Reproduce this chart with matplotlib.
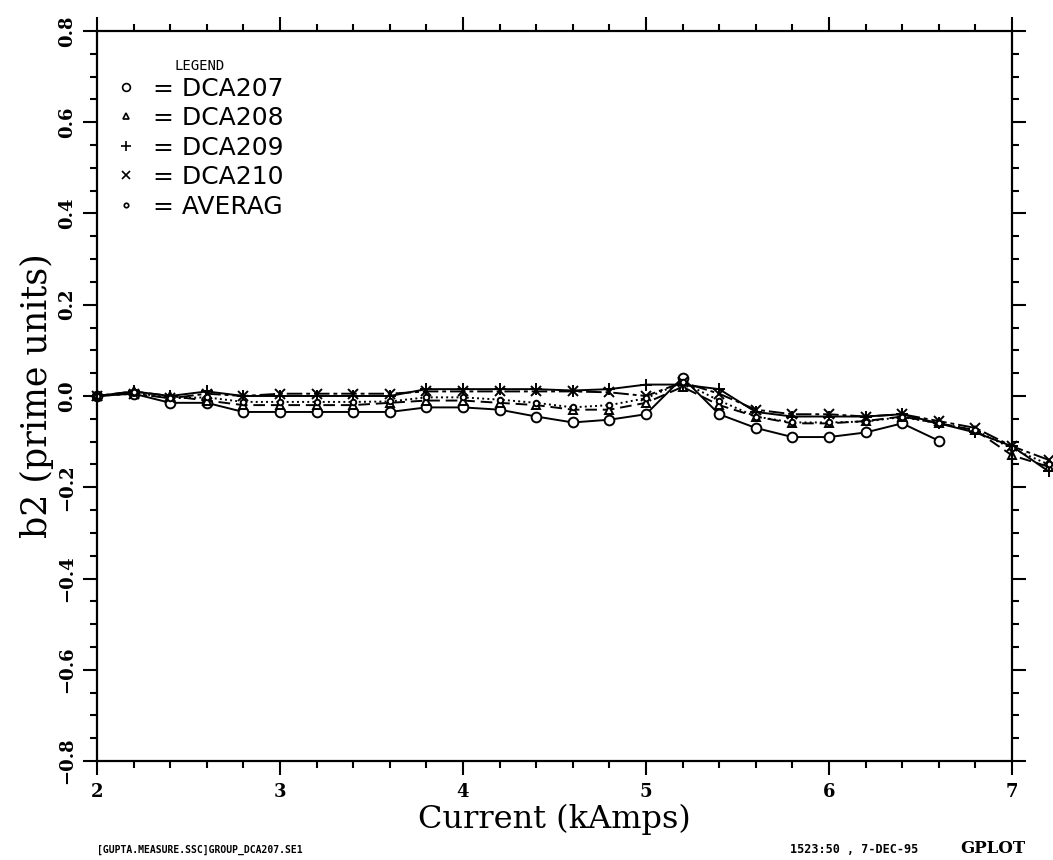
import numpy as np
import matplotlib
matplotlib.use("Agg")
import matplotlib.pyplot as plt
from matplotlib.lines import Line2D
from matplotlib.ticker import MultipleLocator

# current in kAmps, one point every 0.2
current = [2.0, 2.2, 2.4, 2.6, 2.8, 3.0, 3.2, 3.4, 3.6, 3.8, 4.0, 4.2, 4.4, 4.6,
           4.8, 5.0, 5.2, 5.4, 5.6, 5.8, 6.0, 6.2, 6.4, 6.6, 6.8, 7.0, 7.2]

# b2 values
dca207 = [0.0, 0.005, -0.015, -0.015, -0.035, -0.035, -0.035, -0.035, -0.035,
          -0.025, -0.025, -0.03, -0.045, -0.058, -0.052, -0.04, 0.04, -0.04,
          -0.07, -0.09, -0.09, -0.08, -0.06, -0.098]
dca208 = [0.0, 0.01, 0.0, -0.01, -0.02, -0.02, -0.02, -0.02, -0.015, -0.01,
          -0.01, -0.015, -0.02, -0.03, -0.03, -0.015, 0.02, -0.02, -0.045,
          -0.06, -0.06, -0.055, -0.045, -0.06, -0.075, -0.13, -0.155]
dca209 = [0.0, 0.01, 0.0, 0.01, 0.0, 0.0, 0.0, 0.0, 0.0, 0.015, 0.015, 0.015,
          0.015, 0.012, 0.015, 0.025, 0.025, 0.015, -0.035, -0.045, -0.045,
          -0.045, -0.04, -0.06, -0.08, -0.11, -0.165]
dca210 = [0.0, 0.005, -0.005, 0.005, 0.0, 0.005, 0.005, 0.005, 0.005, 0.01,
          0.01, 0.01, 0.01, 0.01, 0.008, 0.0, 0.03, 0.005, -0.03, -0.04, -0.04,
          -0.045, -0.04, -0.055, -0.07, -0.11, -0.14]
averag = [0.0, 0.008, -0.005, -0.003, -0.013, -0.013, -0.013, -0.013, -0.012,
          -0.003, -0.003, -0.008, -0.015, -0.025, -0.02, -0.005, 0.03, -0.01,
          -0.045, -0.058, -0.058, -0.056, -0.046, -0.06, -0.075, -0.115, -0.15]

names = ["DCA207", "DCA208", "DCA209", "DCA210", "AVERAG"]
series = [dca207, dca208, dca209, dca210, averag]
markers = ["o", "^", "+", "x", "o"]
msizes = [7, 6, 9, 7, 4]
lstyles = ["-", (0, (6, 3)), "-", (0, (8, 2, 2, 2)), ":"]

fig = plt.figure(figsize=(10.53, 8.60), dpi=100)
ax = fig.add_axes([0.0921, 0.1151, 0.8689, 0.8489])

for vals, m, ms, ls in zip(series, markers, msizes, lstyles):
    xs = current[:len(vals)]
    ax.plot(xs, vals, color="black", linestyle=ls, linewidth=1.4,
            marker=m, markersize=ms, markerfacecolor="white",
            markeredgecolor="black", markeredgewidth=1.4, clip_on=False)

ax.set_xlim(2, 7)
ax.set_ylim(-0.8, 0.8)
ax.xaxis.set_major_locator(MultipleLocator(1))
ax.xaxis.set_minor_locator(MultipleLocator(0.2))
ax.yaxis.set_major_locator(MultipleLocator(0.2))
ax.yaxis.set_minor_locator(MultipleLocator(0.05))
ax.tick_params(which="both", direction="out", top=True, right=True,
               width=1.5, color="black")
ax.tick_params(which="major", length=10)
ax.tick_params(which="minor", length=5)
ax.tick_params(axis="x", pad=6)
ax.tick_params(axis="y", pad=5, labelrotation=90)
for lab in ax.get_xticklabels() + ax.get_yticklabels():
    lab.set_fontfamily("DejaVu Serif")
    lab.set_fontweight("bold")
    lab.set_fontsize(13)
for lab in ax.get_yticklabels():
    lab.set_verticalalignment("center")
for sp in ax.spines.values():
    sp.set_linewidth(1.6)

ax.set_xlabel("Current (kAmps)", fontfamily="DejaVu Serif", fontsize=23,
              labelpad=2)
ax.set_ylabel("b2 (prime units)", fontfamily="DejaVu Serif", fontsize=25,
              labelpad=3)

handles = [Line2D([], [], linestyle="none", marker=m, markersize=ms * 0.8,
                  markerfacecolor="white", markeredgecolor="black",
                  markeredgewidth=1.2) for m, ms in zip(markers, msizes)]
leg = ax.legend(handles, ["= " + n for n in names], title="LEGEND",
                loc="upper left", bbox_to_anchor=(-0.004, 0.993), frameon=False,
                handlelength=0.8, handletextpad=0.7, labelspacing=0.22,
                prop={"family": "DejaVu Sans", "size": 18})
leg.get_title().set_fontsize(10)
leg.get_title().set_fontfamily("DejaVu Sans Mono")
leg._legend_box.sep = 3

fig.text(0.092, 0.008, "[GUPTA.MEASURE.SSC]GROUP_DCA207.SE1",
         fontfamily="DejaVu Sans Mono", fontweight="bold", fontsize=7)
fig.text(0.75, 0.008, "1523:50 , 7-DEC-95", fontfamily="DejaVu Sans Mono",
         fontweight="bold", fontsize=8.5)
fig.text(0.912, 0.008, "GPLOT", fontfamily="DejaVu Serif",
         fontweight="bold", fontsize=12)

fig.savefig("out.png", dpi=100)
